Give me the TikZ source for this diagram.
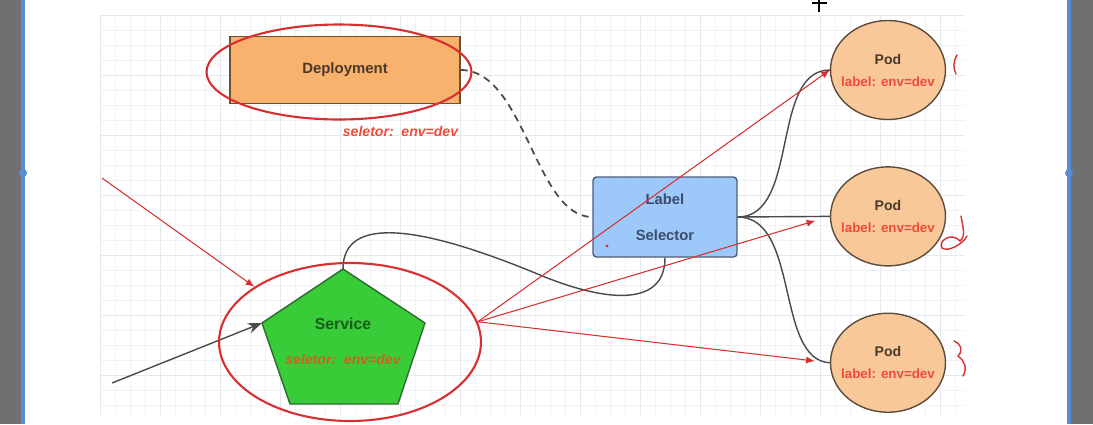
\documentclass[tikz,border=0pt]{standalone}
\usepackage{fontspec}
\setmainfont{Liberation Sans}
\usetikzlibrary{arrows.meta,positioning,shapes.geometric}

\definecolor{depfill}{HTML}{F9B26E}
\definecolor{depline}{HTML}{6E5030}
\definecolor{deptext}{HTML}{4A3A2A}
\definecolor{selfill}{HTML}{9CC8FA}
\definecolor{selline}{HTML}{4E5C78}
\definecolor{seltext}{HTML}{3C4C6C}
\definecolor{podfill}{HTML}{F8C899}
\definecolor{podline}{HTML}{5C4C3C}
\definecolor{podtext}{HTML}{4A3A2A}
\definecolor{svcfill}{HTML}{38CC38}
\definecolor{svcline}{HTML}{2E6A2E}
\definecolor{svctext}{HTML}{1C5A1C}
\definecolor{svcnote}{HTML}{C8641E}
\definecolor{penred}{HTML}{D83030}
\definecolor{labred}{HTML}{F04A3A}
\definecolor{wirecol}{HTML}{4A4A4A}
\definecolor{framecol}{HTML}{707070}
\definecolor{edgecol}{HTML}{5A8CD6}
\definecolor{gridminor}{HTML}{F0F2F5}
\definecolor{gridmajor}{HTML}{E5E8EC}

\begin{document}
\begin{tikzpicture}[
  x=0.02cm, y=-0.02cm,
  font=\bfseries\fontsize{8}{9.5}\selectfont,
  box/.style={draw, line width=0.8pt, align=center, inner sep=2pt},
  pod/.style={ellipse, draw=podline, fill=podfill, line width=0.8pt, minimum width=2.3cm, minimum height=1.98cm,
              inner xsep=-5pt, inner ysep=0pt, align=center, text=podtext},
  ring/.style={ellipse, draw=penred, line width=1.2pt, inner sep=0pt},
  wire/.style={draw=wirecol, line width=0.8pt},
  redflow/.style={-{Latex[length=5pt,width=4pt]}, penred, line width=0.6pt},
  pen/.style={penred, line width=0.8pt, line cap=round},
  note/.style={text=labred, font=\bfseries\itshape\fontsize{8}{9.5}\selectfont},
]
  \useasboundingbox (0,0) rectangle (1093,424);

  % canvas grid
  \foreach \gx in {100,115,...,965} \draw[gridminor, line width=0.3pt] (\gx,15) -- (\gx,415);
  \foreach \gy in {15,30,...,415} \draw[gridminor, line width=0.3pt] (100,\gy) -- (965,\gy);
  \foreach \gx in {100,160,...,965} \draw[gridmajor, line width=0.4pt] (\gx,15) -- (\gx,415);
  \foreach \gy in {15,75,...,415} \draw[gridmajor, line width=0.4pt] (100,\gy) -- (965,\gy);

  % window edges
  \fill[framecol] (0,0) rectangle (21,424);
  \fill[edgecol] (21,0) rectangle (25,424);
  \fill[edgecol] (23,173) circle (4);
  \fill[edgecol] (1067,0) rectangle (1071,424);
  \fill[framecol] (1071,0) rectangle (1093,424);
  \fill[edgecol] (1069,173) circle (4);
  \draw[black, line width=1.4pt] (819,0) -- (819,12) (812,3) -- (827,3);

  % shapes
  \node[box, draw=depline, fill=depfill, minimum width=4.6cm, minimum height=1.34cm,
        text=deptext, font=\bfseries\fontsize{8.5}{10}\selectfont] (dep) at (345,70) {Deployment};
  \node[note, below right=0.31cm and -2.48cm of dep] (depnote) {seletor:~~env=dev};
  \node[box, draw=selline, fill=selfill, rounded corners=2pt, minimum width=2.88cm, minimum height=1.6cm,
        text=seltext, font=\bfseries\fontsize{8.4}{9.5}\selectfont] (sel) at (665,217) {Label\\[11pt]Selector};
  \fill[penred] (607,246) circle (1.6);

  \node[pod] (pod1) at (888,70) {Pod\\[3pt]{\color{labred}\fontsize{7.6}{9}\selectfont label: env=dev}};
  \node[pod, below=0.92cm of pod1] (pod2) {Pod\\[3pt]{\color{labred}\fontsize{7.6}{9}\selectfont label: env=dev}};
  \node[pod, below=0.92cm of pod2] (pod3) {Pod\\[3pt]{\color{labred}\fontsize{7.6}{9}\selectfont label: env=dev}};

  \draw[svcline, fill=svcfill, line width=0.8pt] (343,269) coordinate (svctop) -- (425,323) -- (398,404)
    -- (290,404) -- (262,323) coordinate (svcleft) -- cycle;
  \node[align=center, text=svctext, font=\bfseries\fontsize{9}{10}\selectfont] (svc) at (343,341)
    {Service\\[10pt]{\color{svcnote}\itshape\fontsize{8}{9.5}\selectfont seletor:~~env=dev}};

  % connectors
  \draw[wire, dashed, dash pattern=on 4pt off 3pt, line width=1pt] (dep.east) .. controls (525,70) and (535,217) .. (sel.west);
  \draw[wire] (sel.east) .. controls (800,217) and (770,70) .. (pod1.west);
  \draw[wire] (sel.east) -- (pod2.west);
  \draw[wire] (sel.east) .. controls (800,217) and (775,360) .. (pod3.west);
  \draw[wire] (svctop) .. controls (343,215) and (420,225) .. (540,275)
    .. controls (600,300) and (665,310) .. (sel.south);
  \coordinate (client) at (112,383);
  \draw[wire, -{Stealth[length=8pt,width=6pt]}] (client) -- (svcleft);

  % red pen marks
  \node[ring, minimum width=5.3cm, minimum height=1.9cm] (depring) at (339,72) {};
  \node[ring, minimum width=5.24cm, minimum height=3.16cm] (ring) at (350,342) {};
  \coordinate (intake) at (102,178);
  \draw[redflow] (intake) -- (ring.150);
  \draw[redflow] (ring.9) -- (pod1.west);
  \draw[redflow, shorten >=0.3cm] (ring.9) -- (pod2.west);
  \draw[redflow, shorten >=0.3cm] (ring.9) -- (pod3.west);
  \draw[pen] (957,55) .. controls (953,62) and (953,68) .. (956,74);
  \draw[pen] (961,216) .. controls (963,228) and (966,236) .. (960,241)
    .. controls (952,232) and (938,240) .. (942,248) .. controls (948,252) and (962,245) .. (967,236);
  \draw[pen] (954,341) .. controls (960,343) and (964,350) .. (958,356)
    .. controls (964,360) and (968,368) .. (963,376);
\end{tikzpicture}
\end{document}
